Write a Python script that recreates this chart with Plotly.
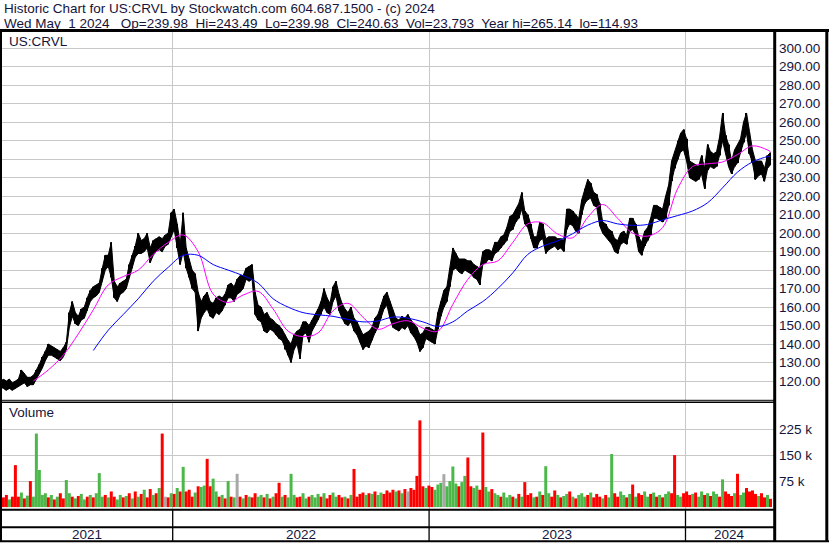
import pandas as pd
import plotly.graph_objects as go

W, H = 830, 543

# price band, one sample per ~3 sessions (May 2021 .. May 1 2024)
lows = [
    116, 115, 116, 115, 116, 117, 118, 119, 117, 118,
    118, 121, 124, 127, 131, 134, 134, 133, 132, 131,
    133, 137, 149, 155, 151, 150, 153, 154, 158, 163,
    165, 166, 168, 174, 180, 182, 176, 165, 163, 167,
    168, 170, 176, 181, 187, 189, 189, 190, 192, 184,
    188, 190, 191, 190, 193, 194, 198, 202, 192, 183,
    190, 181, 176, 170, 168, 147, 154, 157, 159, 155,
    154, 157, 156, 158, 161, 165, 165, 163, 167, 168,
    170, 175, 174, 175, 156, 153, 152, 147, 146, 148,
    147, 145, 143, 142, 137, 134, 130, 137, 140, 132,
    145, 146, 141, 147, 150, 153, 156, 160, 157, 156,
    163, 166, 158, 154, 151, 150, 152, 147, 145, 141,
    137, 139, 138, 142, 146, 149, 154, 159, 161, 154,
    149, 148, 147, 149, 148, 150, 146, 144, 141, 136,
    138, 143, 142, 141, 140, 148, 155, 160, 163, 171,
    180, 181, 179, 178, 180, 179, 178, 176, 175, 172,
    183, 184, 186, 185, 189, 190, 192, 194, 196, 201,
    202, 206, 208, 213, 205, 203, 197, 192, 192, 196,
    197, 189, 191, 192, 193, 191, 192, 190, 202, 205,
    204, 201, 200, 210, 216, 218, 219, 215, 214, 204,
    200, 198, 196, 194, 190, 189, 194, 195, 194, 201,
    202, 199, 190, 188, 193, 196, 199, 208, 208, 207,
    206, 208, 215, 228, 235, 240, 244, 245, 239, 230,
    229, 228, 229, 232, 224, 234, 236, 235, 236, 242,
    250, 244, 236, 232, 236, 238, 244, 249, 254, 243,
    238, 229, 231, 232, 228, 235, 237,
]
highs = [
    121, 120, 121, 119, 120, 121, 126, 124, 122, 122,
    123, 126, 129, 133, 136, 140, 139, 138, 137, 136,
    138, 141, 157, 163, 157, 155, 159, 160, 165, 169,
    171, 172, 173, 181, 188, 188, 195, 174, 171, 173,
    174, 175, 183, 188, 193, 200, 196, 197, 200, 192,
    196, 197, 198, 197, 199, 200, 211, 213, 205, 194,
    211, 192, 186, 180, 178, 168, 163, 166, 168, 163,
    162, 165, 166, 165, 167, 172, 173, 171, 175, 177,
    177, 181, 182, 183, 168, 161, 160, 156, 157, 154,
    153, 151, 150, 148, 145, 142, 140, 145, 147, 148,
    152, 152, 150, 153, 156, 159, 163, 170, 165, 162,
    171, 174, 167, 162, 159, 157, 160, 154, 152, 148,
    145, 146, 147, 149, 154, 156, 161, 166, 168, 163,
    158, 154, 153, 155, 154, 156, 153, 151, 149, 145,
    146, 149, 149, 148, 147, 157, 163, 169, 171, 181,
    192, 189, 186, 186, 186, 185, 185, 183, 182, 181,
    190, 191, 191, 190, 195, 195, 198, 199, 203, 209,
    210, 213, 216, 222, 212, 210, 205, 198, 198, 206,
    205, 197, 198, 198, 198, 197, 197, 196, 213, 213,
    212, 210, 208, 218, 224, 229, 227, 222, 221, 216,
    206, 205, 202, 201, 197, 196, 200, 201, 199, 208,
    208, 205, 198, 195, 201, 203, 208, 215, 215, 214,
    213, 220, 226, 239, 244, 250, 254, 256, 251, 239,
    238, 237, 236, 242, 235, 248, 244, 243, 244, 252,
    265, 253, 248, 239, 245, 248, 251, 260, 265, 255,
    245, 239, 239, 239, 235, 242, 243.5,
]
# volume in thousands, same samples
volume_k = [
    28, 35, 22, 30, 121, 30, 42, 25, 33, 75,
    30, 212, 107, 35, 40, 28, 35, 22, 30, 40,
    25, 78, 40, 30, 25, 32, 38, 22, 30, 35,
    28, 40, 98, 30, 35, 28, 45, 30, 22, 35,
    28, 32, 40, 25, 45, 30, 38, 50, 28, 52,
    35, 40, 55, 212, 30, 28, 40, 38, 55, 45,
    116, 45, 50, 30, 42, 60, 58, 62, 139, 60,
    82, 45, 30, 35, 25, 75, 30, 28, 96, 30,
    25, 35, 30, 28, 40, 30, 35, 28, 38, 25,
    30, 40, 70, 30, 35, 28, 96, 35, 28, 30,
    40, 25, 30, 35, 28, 38, 30, 40, 25, 35,
    42, 30, 35, 28, 30, 25, 35, 110, 30, 38,
    42, 35, 40, 38, 45, 35, 42, 38, 48, 42,
    50, 45, 48, 40, 52, 45, 55, 50, 90, 250,
    60, 55, 62, 58, 50, 65, 70, 95, 60, 75,
    117, 68, 60, 72, 90, 143, 60, 55, 62, 50,
    215, 58, 45, 52, 40, 35, 30, 42, 28, 35,
    30, 25, 38, 30, 72, 35, 40, 28, 30, 45,
    35, 118, 40, 30, 48, 35, 28, 32, 38, 45,
    30, 25, 35, 40, 30, 35, 42, 28, 38, 30,
    25, 35, 28, 153, 40, 30, 45, 35, 28, 38,
    65, 30, 40, 35, 45, 30, 38, 42, 30, 35,
    28, 38, 45, 40, 150, 35, 30, 40, 45, 35,
    38, 42, 30, 45, 35, 40, 32, 45, 38, 30,
    80, 45, 38, 32, 40, 96, 35, 42, 55, 45,
    48, 38, 32, 40, 28, 35, 24,
]
# u = up day, d = down day, n = unchanged
direction = "".join([
    "ddudddudud", "uuuuududud", "duududuudu", "duuududduu", "dududududd",
    "ududndudud", "uddduduudd", "uudududund", "ududduudud", "udduduuudd",
    "uuduuududd", "uuddududdd", "dududuuddd", "dududndddd", "dudduuunuu",
    "uuduudduud", "duuduuduuu", "dududddudu", "duudduduud", "uduuududdd",
    "uduudduudu", "dudduududu", "duudduuddd", "uduududuud", "uddduduudd",
    "dduddud",
])

# moving averages: magenta from sample 10, blue from sample 30, every 5th sample
fast_ma = [
    120, 126, 134, 145.5, 158.5, 172, 176.5, 180, 188.5, 195,
    199, 190, 167, 162.5, 166.5, 168.5, 159, 147, 144, 146,
    158, 162, 154.5, 148, 151, 152.6, 148.6, 147, 161.5, 175,
    183, 185, 195, 205, 205.6, 199.5, 197.5, 208.5, 215.5, 208,
    200, 198.4, 203, 224, 236, 237.5, 238.5, 242.5, 247.2, 245,
    244,
]
slow_ma = [
    136.5, 147.5, 156, 164.5, 174, 181.5, 188, 188, 183, 180,
    177, 173, 164.5, 160, 157, 155.8, 155, 153.3, 152, 152.5,
    154.6, 154, 152, 149.5, 152, 158, 163, 170, 178.5, 188.5,
    193, 195.8, 199.7, 204.3, 206.8, 205, 204.2, 204.7, 207.2, 209.5,
    212, 216.4, 224.5, 233, 238.5, 241.4, 241.6,
]

price_ticks = list(range(120, 301, 10))
volume_ticks = [75, 150, 225]
volume_labels = ["75 k", "150 k", "225 k"]
years = ["2021", "2022", "2023", "2024"]

title_1 = "Historic Chart for US:CRVL by Stockwatch.com 604.687.1500 - (c) 2024"
title_2 = ("Wed May\u00a0 1 2024\u00a0\u00a0 Op=239.98\u00a0 Hi=243.49\u00a0 Lo=239.98\u00a0 "
           "Cl=240.63\u00a0 Vol=23,793\u00a0 Year hi=265.14\u00a0 lo=114.93")

n = len(lows)
assert len(highs) == n and len(volume_k) == n and len(direction) == n, (len(highs), len(volume_k), len(direction))

dates = pd.date_range("2021-05-05", "2024-05-01", periods=n)
bar_w = (dates[1] - dates[0]).total_seconds() * 1000
x_lo = dates[0] - pd.Timedelta(days=2)
x_hi = dates[-1] + pd.Timedelta(days=5)

fast_idx = list(range(10, n - 1, 5)) + [n - 1]
slow_idx = list(range(30, n - 1, 5)) + [n - 1]

year_starts = [pd.Timestamp(f"{y}-01-01") for y in years[1:]]
edges = [x_lo] + year_starts + [x_hi]
year_mids = [edges[k] + (edges[k + 1] - edges[k]) / 2 for k in range(len(years))]

vol_palette = {"u": "#4cb84a", "d": "#ff0000", "n": "#a8a8a8"}
vol_colors = [vol_palette[c] for c in direction]

FONT = "Liberation Sans, Arial, sans-serif"
FS = 13.5
TXT = "#14143c"
GRID = "#c8c8c8"


def px(x):
    return x / W


def py(y):
    return 1 - y / H


fig = go.Figure()

# daily range band: highs across, lows back
fig.add_trace(go.Scatter(
    x=list(dates) + list(dates[::-1]), y=highs + lows[::-1],
    mode="lines", fill="toself", fillcolor="black",
    line=dict(color="black", width=1), xaxis="x", yaxis="y", hoverinfo="skip"
))
fig.add_trace(go.Bar(
    x=dates, y=[h - l for h, l in zip(highs, lows)], base=lows, width=bar_w * 0.35,
    marker=dict(color="black", line_width=0), xaxis="x", yaxis="y", hoverinfo="skip"
))
fig.add_trace(go.Scatter(
    x=dates[fast_idx], y=fast_ma, mode="lines",
    line=dict(color="#ff00ff", width=1, shape="spline"), xaxis="x", yaxis="y"
))
fig.add_trace(go.Scatter(
    x=dates[slow_idx], y=slow_ma, mode="lines",
    line=dict(color="#0000ff", width=1, shape="spline"), xaxis="x", yaxis="y"
))
fig.add_trace(go.Bar(
    x=dates, y=volume_k, width=bar_w,
    marker=dict(color=vol_colors, line_width=0), xaxis="x2", yaxis="y2", hoverinfo="skip"
))

xcommon = dict(
    domain=[px(2), px(774)], range=[x_lo, x_hi], type="date",
    tickvals=year_starts, showticklabels=False, ticks="",
    showgrid=True, gridcolor=GRID, gridwidth=1, zeroline=False, showline=False,
)
ycommon = dict(
    side="right", ticks="", showgrid=True, gridcolor=GRID, gridwidth=1,
    zeroline=False, showline=False, ticklabelstandoff=4,
    tickfont=dict(family=FONT, size=FS, color=TXT),
)

fig.update_layout(
    width=W, height=H, margin=dict(l=0, r=0, t=0, b=0),
    paper_bgcolor="white", plot_bgcolor="white", showlegend=False, barmode="overlay",
    xaxis=dict(anchor="y", **xcommon),
    xaxis2=dict(anchor="y2", matches="x", **xcommon),
    yaxis=dict(domain=[py(399.5), py(32)], range=[110, 308.8], anchor="x",
               tickvals=price_ticks, tickformat=".2f", **ycommon),
    yaxis2=dict(domain=[py(509), py(402)], range=[-5.5, 303], anchor="x2",
                tickvals=volume_ticks, ticktext=volume_labels, **ycommon),
)


def hline(y, x0, x1, w):
    fig.add_shape(type="line", xref="paper", yref="paper", x0=px(x0), x1=px(x1),
                  y0=py(y), y1=py(y), line=dict(color="black", width=w))


def vline(x, y0, y1, w):
    fig.add_shape(type="line", xref="paper", yref="paper", x0=px(x), x1=px(x),
                  y0=py(y0), y1=py(y1), line=dict(color="black", width=w))


# frame
hline(30.6, 0, 829, 3)
vline(1, 29, 542, 2)
vline(774.7, 29, 542, 3)
vline(826.8, 29, 542, 3)
hline(400.3, 1, 774, 1)
hline(402.2, 1, 774, 1.5)
hline(509.7, 1, 774, 2)
hline(527.3, 1, 774, 2)
hline(541.3, 0, 829, 2)

# year dividers in the date band
for ys in year_starts:
    fig.add_shape(type="line", xref="x", yref="paper", x0=ys, x1=ys,
                  y0=py(541), y1=py(509), line=dict(color="black", width=1.3))

for label, mid in zip(years, year_mids):
    fig.add_annotation(x=mid, xref="x", y=py(534.5), yref="paper", text=label, showarrow=False,
                       xanchor="center", yanchor="middle", font=dict(family=FONT, size=FS, color=TXT))


def label(text, x, y):
    fig.add_annotation(x=px(x), y=py(y), xref="paper", yref="paper", text=text, showarrow=False,
                       xanchor="left", yanchor="middle", font=dict(family=FONT, size=FS, color=TXT))


label(title_1, 2, 8.5)
label(title_2, 2, 23)
label("US:CRVL", 7, 41.5)
label("Volume", 7, 413)

# page body margin would shift the figure off the 830x543 window
fig.write_html("out.html", config={"displayModeBar": False},
               post_script="document.body.style.margin='0';document.body.style.overflow='hidden';")
